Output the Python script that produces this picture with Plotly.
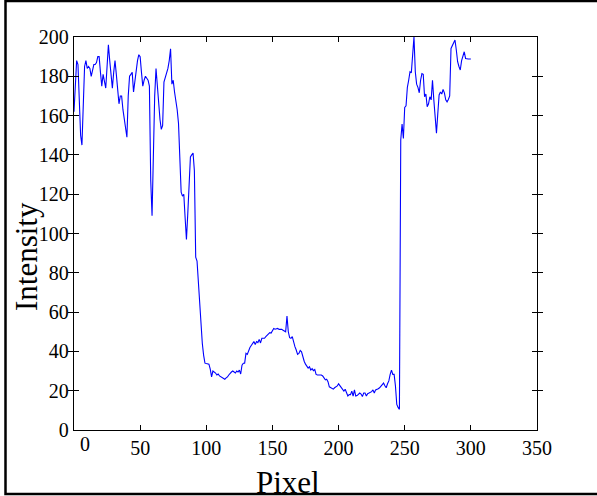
import plotly.graph_objects as go

# Pixel positions 0..300 and intensity values
pixel = list(range(0, 301))
intensity = [
    162, 175, 188, 186, 165, 150, 145, 165, 185, 188,
    184, 185, 184, 180, 184, 186, 186, 187, 190, 190,
    182, 175, 181, 178, 174, 185, 196, 188, 180, 174,
    182, 188, 181, 172, 166, 170, 170, 163, 158, 152,
    149, 170, 180, 181, 182, 172, 178, 185, 188, 191,
    190, 182, 175, 178, 180, 179, 178, 175, 127, 109,
    140, 170, 184, 174, 168, 158, 153, 155, 177, 179,
    181, 184, 188, 194, 176, 178, 172, 168, 163, 156,
    140, 121, 119, 120, 108, 97, 110, 125, 139, 140,
    141, 132, 88, 86, 75, 62, 51, 44, 38, 34,
    33.8, 33.6, 33.5, 31, 27, 30, 29.5, 29, 28, 28.5,
    27.5, 27, 26.5, 26, 25.8, 26.5, 27, 28, 29, 29.5,
    30, 29.5, 29, 30, 29.5, 30.5, 28.5, 33, 34, 34,
    39, 38.5, 40.5, 42, 43, 44, 45, 43.5, 45, 44.5,
    46.1, 44.3, 46.7, 46.7, 46.7, 47.5, 48.3, 49, 49.5, 49.3,
    50.5, 51.7, 51.3, 51.5, 51.7, 51.2, 51.4, 51.2, 50.8, 50.3,
    50, 58, 50, 47, 46.7, 47.5, 44.3, 42.4, 40.7, 38.5,
    39, 40.5, 39.8, 36.5, 35, 33.5, 32.2, 31.5, 32.2, 30.5,
    31.2, 30.2, 30.8, 28.3, 28, 28, 28, 28, 27.5, 26.5,
    25.5, 25.8, 24.6, 22, 21.5, 21.2, 20.8, 21.5, 22, 22.4,
    23.5, 22.4, 21.5, 20.5, 19.8, 20.7, 18.5, 17.3, 18, 18,
    19.8, 17.3, 20.4, 17.3, 17.5, 18, 18.8, 18.3, 17, 18.8,
    18.8, 17.3, 18.5, 18.8, 19.2, 19.5, 20.4, 18.8, 20.4, 20.6,
    21, 21.5, 22.4, 22.9, 23.9, 22.5, 21.5, 23.5, 25, 28.3,
    30.5, 28.3, 28.3, 22.4, 13, 11.5, 10.5, 147.6, 155.7, 148.4,
    164.2, 165, 174.4, 178, 182.3, 181.8, 190, 200, 182.3, 176,
    174.4, 171.6, 178, 181.4, 181, 169.6, 171, 164.5, 166, 169.6,
    168, 178, 168, 157.8, 151, 161, 170.5, 172, 171, 173.3,
    171.6, 168, 167, 168.2, 170, 194.2, 195.9, 197, 198.5, 193.4,
    187.4, 185, 183.2, 188, 190, 192.5, 189.1, 188.8, 188.8, 188.8,
    188.8,
]

x_ticks = [50, 100, 150, 200, 250, 300, 350]
y_ticks = [0, 20, 40, 60, 80, 100, 120, 140, 160, 180, 200]

W, H = 597, 496
L, R, T, B = 74, 60, 37, 66
pw, ph = W - L - R, H - T - B

def px2paper_x(px):
    return (px - L) / pw

def px2paper_y(py):
    return (H - B - py) / ph

FONT = "Liberation Serif, Times New Roman, serif"

fig = go.Figure()
fig.add_trace(go.Scatter(x=pixel, y=intensity, mode="lines",
                         line=dict(color="#0000ff", width=1.1),
                         showlegend=False, hoverinfo="skip"))
# invisible trace to host the separate "0" tick label axis
fig.add_trace(go.Scatter(x=[0], y=[0], xaxis="x2", mode="markers",
                         marker=dict(opacity=0), showlegend=False,
                         hoverinfo="skip"))

axis_common = dict(showline=True, linecolor="black", linewidth=1.3,
                   mirror="allticks", ticks="inside", ticklen=5,
                   tickwidth=1, tickcolor="black", showgrid=False,
                   zeroline=False,
                   tickfont=dict(family=FONT, size=20, color="black"))

fig.update_layout(
    width=W, height=H,
    margin=dict(l=L, r=R, t=T, b=B),
    paper_bgcolor="white", plot_bgcolor="white",
    xaxis=dict(range=[0, 350], tickmode="array",
               tickvals=[0] + x_ticks, ticktext=[""] + [str(v) for v in x_ticks],
               **axis_common),
    xaxis2=dict(range=[0, 350], overlaying="x", side="bottom",
                tickmode="array", tickvals=[0], ticktext=["0"],
                showline=False, ticks="", showgrid=False, zeroline=False,
                ticklabelshift=11,
                tickfont=dict(family=FONT, size=20, color="black")),
    yaxis=dict(range=[0, 200], tickmode="array", tickvals=y_ticks,
               ticktext=[str(v) for v in y_ticks], **axis_common),
    annotations=[
        dict(text="Intensity", x=px2paper_x(26), y=px2paper_y(257),
             xref="paper", yref="paper", showarrow=False, textangle=-90,
             xanchor="center", yanchor="middle",
             font=dict(family=FONT, size=31, color="black")),
        dict(text="Pixel", x=px2paper_x(288), y=px2paper_y(482),
             xref="paper", yref="paper", showarrow=False,
             xanchor="center", yanchor="middle",
             font=dict(family=FONT, size=31, color="black")),
    ],
    shapes=[
        dict(type="rect", xref="paper", yref="paper",
             x0=px2paper_x(5.5), x1=px2paper_x(610),
             y0=px2paper_y(494), y1=px2paper_y(1),
             line=dict(color="black", width=2.5), layer="above"),
    ],
)

fig.write_html("out.html")
